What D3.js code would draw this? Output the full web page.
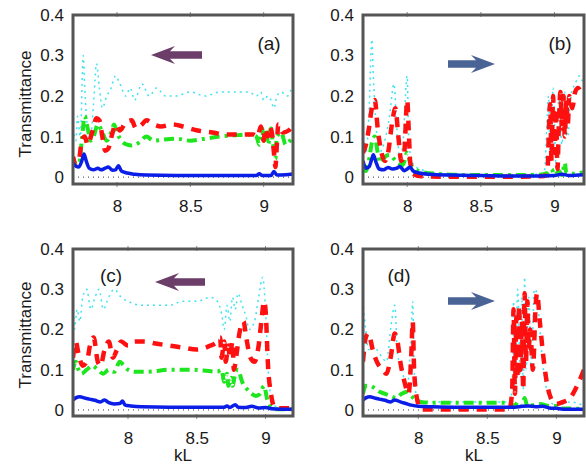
<!DOCTYPE html>
<html><head><meta charset="utf-8">
<script src="https://cdn.jsdelivr.net/npm/d3@7"></script>
<style>body{margin:0;background:#fff}svg{display:block;font-family:"Liberation Sans",Arial,sans-serif}</style>
</head><body><svg id="c" width="586" height="464"></svg>
<script>
// ---------- data ----------
const panelLabels = ["(a)", "(b)", "(c)", "(d)"];
const xDomains = [[7.7, 9.2], [7.7, 9.2], [7.6, 9.2], [7.6, 9.2]];
const xTicks = [8, 8.5, 9];
const xTickLabels = ["8", "8.5", "9"];
const yTicks = [0, 0.1, 0.2, 0.3, 0.4];
const yTickLabels = ["0", "0.1", "0.2", "0.3", "0.4"];
const arrowDirs = ["left", "right", "left", "right"];

const aBlue = [[7.70,0.035],[7.72,0.027],[7.74,0.025],[7.76,0.04],[7.775,0.057],[7.79,0.04],[7.81,0.022],[7.84,0.018],[7.87,0.022],[7.89,0.018],[7.92,0.022],[7.94,0.025],[7.97,0.017],[7.99,0.018],[8.01,0.028],[8.03,0.015],[8.07,0.01],[8.12,0.007],[8.2,0.005],[8.4,0.004],[8.6,0.004],[8.8,0.004],[8.95,0.004],[8.97,0.008],[8.99,0.004],[9.05,0.004],[9.07,0.014],[9.09,0.005],[9.15,0.006],[9.2,0.008]];
const aGreen = [[7.70,0.05],[7.72,0.03],[7.74,0.03],[7.76,0.09],[7.78,0.15],[7.80,0.12],[7.82,0.09],[7.84,0.10],[7.87,0.13],[7.90,0.11],[7.93,0.09],[7.96,0.11],[7.98,0.13],[8.00,0.11],[8.03,0.09],[8.07,0.08],[8.10,0.078],[8.15,0.085],[8.2,0.10],[8.25,0.09],[8.3,0.092],[8.4,0.095],[8.5,0.09],[8.6,0.095],[8.7,0.1],[8.8,0.103],[8.9,0.105],[8.95,0.1],[8.97,0.08],[8.99,0.12],[9.0,0.09],[9.02,0.11],[9.03,0.08],[9.05,0.12],[9.06,0.09],[9.07,0.07],[9.08,0.045],[9.09,0.1],[9.12,0.11],[9.15,0.08],[9.18,0.09],[9.2,0.1]];
const aRed = [[7.70,0.05],[7.72,0.03],[7.74,0.04],[7.76,0.09],[7.78,0.10],[7.80,0.08],[7.83,0.11],[7.86,0.145],[7.88,0.14],[7.90,0.10],[7.92,0.065],[7.94,0.07],[7.97,0.11],[7.99,0.13],[8.02,0.115],[8.06,0.135],[8.10,0.14],[8.13,0.12],[8.17,0.13],[8.2,0.14],[8.25,0.13],[8.3,0.125],[8.38,0.13],[8.45,0.125],[8.55,0.115],[8.65,0.11],[8.75,0.105],[8.85,0.105],[8.93,0.105],[8.96,0.1],[8.98,0.125],[9.0,0.09],[9.01,0.12],[9.03,0.1],[9.04,0.125],[9.06,0.1],[9.07,0.06],[9.08,0.025],[9.09,0.08],[9.1,0.13],[9.13,0.11],[9.17,0.115],[9.2,0.13]];
const aCyan = [[7.70,0.12],[7.72,0.09],[7.73,0.15],[7.75,0.10],[7.77,0.30],[7.78,0.22],[7.80,0.12],[7.82,0.10],[7.84,0.18],[7.86,0.28],[7.88,0.22],[7.90,0.17],[7.93,0.2],[7.96,0.22],[7.99,0.25],[8.02,0.23],[8.06,0.2],[8.09,0.22],[8.12,0.19],[8.17,0.23],[8.22,0.2],[8.27,0.22],[8.33,0.2],[8.4,0.2],[8.5,0.21],[8.6,0.2],[8.7,0.21],[8.8,0.21],[8.9,0.21],[8.95,0.2],[8.98,0.21],[9.0,0.19],[9.03,0.2],[9.05,0.19],[9.07,0.17],[9.09,0.2],[9.12,0.21],[9.16,0.2],[9.2,0.23]];

const bBlue = [[7.70,0.04],[7.72,0.022],[7.74,0.025],[7.76,0.045],[7.77,0.055],[7.79,0.035],[7.81,0.02],[7.84,0.018],[7.87,0.024],[7.90,0.02],[7.93,0.022],[7.95,0.026],[7.98,0.016],[8.0,0.02],[8.02,0.025],[8.04,0.015],[8.08,0.01],[8.15,0.007],[8.3,0.005],[8.5,0.004],[8.7,0.003],[8.9,0.003],[9.0,0.004],[9.05,0.007],[9.1,0.004],[9.2,0.006]];
const bGreen = [[7.70,0.02],[7.72,0.015],[7.74,0.04],[7.76,0.085],[7.78,0.1],[7.80,0.06],[7.82,0.035],[7.85,0.05],[7.88,0.055],[7.91,0.045],[7.94,0.035],[7.97,0.03],[8.0,0.06],[8.02,0.035],[8.05,0.02],[8.1,0.013],[8.2,0.008],[8.3,0.006],[8.5,0.005],[8.7,0.005],[8.9,0.006],[8.95,0.01],[8.98,0.02],[9.0,0.005],[9.03,0.015],[9.05,0.005],[9.07,0.035],[9.08,0.01],[9.12,0.008],[9.2,0.012]];
const bRed = [[7.70,0.06],[7.72,0.08],[7.74,0.12],[7.76,0.17],[7.78,0.19],[7.80,0.12],[7.82,0.07],[7.85,0.04],[7.87,0.06],[7.90,0.14],[7.92,0.17],[7.94,0.1],[7.96,0.04],[7.98,0.06],[8.0,0.19],[8.01,0.12],[8.02,0.04],[8.04,0.008],[8.1,0.002],[8.3,0.001],[8.5,0.001],[8.7,0.001],[8.9,0.002],[8.95,0.005],[8.97,0.18],[8.98,0.04],[8.99,0.2],[9.0,0.06],[9.01,0.17],[9.02,0.02],[9.03,0.14],[9.04,0.21],[9.05,0.12],[9.06,0.2],[9.07,0.1],[9.08,0.19],[9.09,0.13],[9.1,0.2],[9.12,0.17],[9.14,0.21],[9.16,0.22],[9.18,0.21],[9.2,0.2]];
const bCyan = [[7.70,0.1],[7.72,0.06],[7.74,0.15],[7.76,0.34],[7.77,0.25],[7.79,0.12],[7.81,0.06],[7.84,0.08],[7.88,0.15],[7.91,0.23],[7.93,0.12],[7.95,0.05],[7.97,0.08],[8.0,0.25],[8.01,0.1],[8.03,0.04],[8.06,0.025],[8.1,0.018],[8.15,0.012],[8.25,0.008],[8.5,0.006],[8.8,0.006],[8.93,0.01],[8.96,0.2],[8.97,0.05],[8.99,0.22],[9.01,0.03],[9.03,0.2],[9.05,0.08],[9.07,0.21],[9.09,0.1],[9.11,0.2],[9.14,0.23],[9.17,0.25],[9.2,0.22]];

const cBlue = [[7.60,0.025],[7.62,0.03],[7.65,0.033],[7.68,0.03],[7.72,0.027],[7.76,0.024],[7.80,0.02],[7.83,0.025],[7.86,0.018],[7.90,0.015],[7.94,0.016],[7.96,0.022],[7.98,0.012],[8.02,0.01],[8.1,0.008],[8.3,0.007],[8.5,0.007],[8.7,0.007],[8.72,0.01],[8.74,0.006],[8.78,0.013],[8.8,0.007],[8.85,0.006],[8.9,0.009],[8.95,0.005],[9.0,0.006],[9.05,0.003],[9.1,0.002],[9.2,0.002]];
const cGreen = [[7.60,0.1],[7.62,0.12],[7.64,0.1],[7.66,0.09],[7.7,0.1],[7.74,0.11],[7.78,0.1],[7.82,0.09],[7.86,0.1],[7.9,0.095],[7.94,0.12],[7.97,0.11],[8.0,0.1],[8.05,0.095],[8.15,0.095],[8.3,0.1],[8.45,0.1],[8.55,0.098],[8.65,0.095],[8.68,0.1],[8.7,0.07],[8.72,0.09],[8.73,0.06],[8.75,0.08],[8.76,0.06],[8.78,0.09],[8.8,0.1],[8.83,0.07],[8.87,0.05],[8.9,0.04],[8.93,0.035],[8.96,0.04],[8.99,0.06],[9.01,0.03],[9.04,0.008],[9.07,0.002],[9.2,0.002]];
const cRed = [[7.60,0.13],[7.62,0.17],[7.64,0.14],[7.67,0.11],[7.7,0.12],[7.73,0.17],[7.75,0.18],[7.78,0.12],[7.8,0.11],[7.83,0.15],[7.86,0.17],[7.89,0.13],[7.92,0.15],[7.95,0.17],[8.0,0.16],[8.05,0.17],[8.12,0.17],[8.2,0.165],[8.3,0.16],[8.4,0.155],[8.5,0.15],[8.6,0.16],[8.65,0.17],[8.67,0.18],[8.68,0.13],[8.7,0.17],[8.71,0.12],[8.73,0.16],[8.74,0.13],[8.76,0.17],[8.77,0.1],[8.79,0.14],[8.81,0.19],[8.84,0.22],[8.86,0.18],[8.89,0.13],[8.92,0.12],[8.95,0.16],[8.97,0.22],[8.99,0.27],[9.0,0.25],[9.02,0.1],[9.04,0.04],[9.06,0.01],[9.08,0.004],[9.2,0.004]];
const cCyan = [[7.60,0.32],[7.61,0.2],[7.63,0.25],[7.65,0.22],[7.67,0.28],[7.7,0.3],[7.73,0.25],[7.76,0.28],[7.79,0.3],[7.82,0.25],[7.86,0.28],[7.9,0.3],[7.95,0.28],[8.0,0.27],[8.1,0.26],[8.2,0.26],[8.3,0.26],[8.4,0.27],[8.5,0.27],[8.6,0.28],[8.65,0.27],[8.68,0.24],[8.7,0.2],[8.72,0.26],[8.74,0.22],[8.76,0.28],[8.78,0.25],[8.8,0.29],[8.83,0.26],[8.86,0.23],[8.88,0.2],[8.92,0.22],[8.95,0.28],[8.98,0.33],[9.0,0.25],[9.02,0.1],[9.04,0.03],[9.06,0.01],[9.2,0.005]];

const dBlue = [[7.60,0.025],[7.62,0.03],[7.65,0.033],[7.68,0.03],[7.72,0.027],[7.76,0.024],[7.80,0.02],[7.83,0.025],[7.87,0.02],[7.91,0.016],[7.95,0.012],[8.0,0.009],[8.1,0.008],[8.3,0.007],[8.5,0.007],[8.7,0.007],[8.75,0.009],[8.8,0.01],[8.85,0.008],[8.9,0.009],[8.95,0.005],[9.0,0.004],[9.05,0.002],[9.2,0.002]];
const dGreen = [[7.60,0.04],[7.62,0.06],[7.65,0.06],[7.68,0.055],[7.72,0.045],[7.76,0.04],[7.8,0.035],[7.84,0.03],[7.88,0.04],[7.92,0.045],[7.95,0.035],[7.98,0.025],[8.02,0.02],[8.1,0.018],[8.3,0.018],[8.5,0.018],[8.65,0.018],[8.7,0.01],[8.72,0.02],[8.75,0.01],[8.77,0.03],[8.79,0.01],[8.83,0.012],[8.88,0.015],[8.95,0.01],[9.0,0.01],[9.03,0.004],[9.2,0.003]];
const dRed = [[7.60,0.12],[7.62,0.18],[7.64,0.19],[7.67,0.15],[7.7,0.12],[7.74,0.1],[7.77,0.09],[7.8,0.13],[7.83,0.19],[7.85,0.17],[7.87,0.12],[7.9,0.07],[7.93,0.04],[7.95,0.14],[7.96,0.22],[7.97,0.1],[7.99,0.03],[8.02,0.001],[8.2,0.001],[8.5,0.001],[8.66,0.001],[8.68,0.05],[8.69,0.25],[8.7,0.04],[8.71,0.23],[8.72,0.08],[8.73,0.26],[8.74,0.1],[8.75,0.22],[8.76,0.05],[8.77,0.29],[8.78,0.12],[8.79,0.27],[8.8,0.15],[8.81,0.2],[8.83,0.1],[8.85,0.26],[8.86,0.29],[8.88,0.22],[8.9,0.15],[8.93,0.07],[8.96,0.03],[9.0,0.015],[9.05,0.02],[9.1,0.03],[9.15,0.06],[9.2,0.1]];
const dCyan = [[7.60,0.27],[7.62,0.2],[7.64,0.15],[7.67,0.16],[7.7,0.15],[7.74,0.13],[7.77,0.12],[7.8,0.2],[7.83,0.26],[7.85,0.14],[7.88,0.1],[7.92,0.06],[7.95,0.2],[7.96,0.27],[7.97,0.1],[7.99,0.03],[8.03,0.02],[8.2,0.02],[8.5,0.02],[8.66,0.02],[8.68,0.05],[8.69,0.27],[8.7,0.05],[8.72,0.3],[8.74,0.08],[8.75,0.28],[8.76,0.05],[8.77,0.33],[8.78,0.1],[8.8,0.28],[8.82,0.1],[8.84,0.3],[8.86,0.29],[8.88,0.2],[8.9,0.12],[8.93,0.05],[8.96,0.02],[9.0,0.01],[9.1,0.02],[9.2,0.01]];

const panelSeries = [
  {blue: aBlue, green: aGreen, red: aRed, cyan: aCyan},
  {blue: bBlue, green: bGreen, red: bRed, cyan: bCyan},
  {blue: cBlue, green: cGreen, red: cRed, cyan: cCyan},
  {blue: dBlue, green: dGreen, red: dRed, cyan: dCyan}
];

// ---------- layout ----------
const boxes = [
  {x0: 73, x1: 293, y0: 15, y1: 184, yMin: -0.017},
  {x0: 363, x1: 584, y0: 15, y1: 184, yMin: -0.017},
  {x0: 73, x1: 293, y0: 249, y1: 416, yMin: -0.015},
  {x0: 363, x1: 584, y0: 249, y1: 416, yMin: -0.015}
];
const labelPos = [[269, 50], [560, 50], [111, 282], [399, 282]];
const arrowPos = [[151, 202, 55], [448, 495, 64], [155, 205, 282], [448, 495, 301]];
const arrowColors = {left: "#6b3d68", right: "#4a6395"};

const styles = {
  cyan: {stroke: "#3fe4f0", width: 1.5, dash: "2,4"},
  green: {stroke: "#1ee61e", width: 4, dash: "10,5,3,5"},
  red: {stroke: "#ff1010", width: 4.5, dash: "10,8"},
  blue: {stroke: "#0a1ee8", width: 3.5, dash: null}
};
const order = ["cyan", "green", "red", "blue"];

const svg = d3.select("#c");
const defs = svg.append("defs");

boxes.forEach((b, i) => {
  const x = d3.scaleLinear().domain(xDomains[i]).range([b.x0, b.x1]);
  const y = d3.scaleLinear().domain([b.yMin, 0.4]).range([b.y1, b.y0]);
  const g = svg.append("g");

  defs.append("clipPath").attr("id", "clip" + i)
    .append("rect").attr("x", b.x0).attr("y", b.y0).attr("width", b.x1 - b.x0).attr("height", b.y1 - b.y0);

  // dotted zero line
  g.append("line").attr("x1", b.x0).attr("x2", b.x1).attr("y1", y(0)).attr("y2", y(0))
    .attr("stroke", "#333").attr("stroke-width", 1).attr("stroke-dasharray", "1,4");

  const line = d3.line().x(d => x(d[0])).y(d => y(d[1])).curve(d3.curveMonotoneX);
  const lg = g.append("g").attr("clip-path", `url(#clip${i})`);
  order.forEach(k => {
    const s = styles[k];
    lg.append("path").datum(panelSeries[i][k])
      .attr("d", line).attr("fill", "none")
      .attr("stroke", s.stroke).attr("stroke-width", s.width)
      .attr("stroke-dasharray", s.dash)
      .attr("stroke-linejoin", "round");
  });

  // axes
  const xAxis = d3.axisBottom(x).tickValues(xTicks).tickFormat((d, j) => xTickLabels[j]).tickSize(0).tickPadding(16);
  const xg = g.append("g").attr("transform", `translate(0,${b.y1})`).call(xAxis);
  xg.select(".domain").remove();
  xg.selectAll("text").attr("font-size", 17).attr("fill", "#1a1a1a").attr("font-family", "Liberation Sans, Arial, sans-serif");

  const yAxis = d3.axisLeft(y).tickValues(yTicks).tickFormat((d, j) => yTickLabels[j]).tickSize(0).tickPadding(9);
  const yg = g.append("g").attr("transform", `translate(${b.x0},0)`).call(yAxis);
  yg.select(".domain").remove();
  yg.selectAll("text").attr("font-size", 17).attr("fill", "#1a1a1a").attr("font-family", "Liberation Sans, Arial, sans-serif");

  // small tick stubs on top/bottom
  xTicks.forEach(t => {
    g.append("line").attr("x1", x(t)).attr("x2", x(t)).attr("y1", b.y0 - 3).attr("y2", b.y0 + 2).attr("stroke", "#888").attr("stroke-width", 1);
    g.append("line").attr("x1", x(t)).attr("x2", x(t)).attr("y1", b.y1 - 2).attr("y2", b.y1 + 3).attr("stroke", "#888").attr("stroke-width", 1);
  });

  // frame
  g.append("rect").attr("x", b.x0).attr("y", b.y0).attr("width", b.x1 - b.x0).attr("height", b.y1 - b.y0)
    .attr("fill", "none").attr("stroke", "#555").attr("stroke-width", 3);

  // panel label
  g.append("text").attr("x", labelPos[i][0]).attr("y", labelPos[i][1]).attr("text-anchor", "middle")
    .attr("font-size", 19).attr("fill", "#1a1a1a").text(panelLabels[i]);

  // arrow
  const [ax0, ax1, ay] = arrowPos[i];
  const col = arrowColors[arrowDirs[i]];
  const headLen = 24, headH = 9, shaftH = 3.8;
  let pts;
  if (arrowDirs[i] === "left") {
    pts = [[ax0, ay], [ax0 + headLen, ay - headH], [ax0 + headLen - 5, ay - shaftH], [ax1, ay - shaftH], [ax1, ay + shaftH], [ax0 + headLen - 5, ay + shaftH], [ax0 + headLen, ay + headH]];
  } else {
    pts = [[ax1, ay], [ax1 - headLen, ay - headH], [ax1 - headLen + 5, ay - shaftH], [ax0, ay - shaftH], [ax0, ay + shaftH], [ax1 - headLen + 5, ay + shaftH], [ax1 - headLen, ay + headH]];
  }
  g.append("polygon").attr("points", pts.map(p => p.join(",")).join(" ")).attr("fill", col);
});

// axis titles
svg.append("text").attr("transform", "translate(31,104) rotate(-90)").attr("text-anchor", "middle")
  .attr("font-size", 17).attr("fill", "#1a1a1a").text("Transmittance");
svg.append("text").attr("transform", "translate(31,335) rotate(-90)").attr("text-anchor", "middle")
  .attr("font-size", 17).attr("fill", "#1a1a1a").text("Transmittance");
svg.append("text").attr("x", 183).attr("y", 461).attr("text-anchor", "middle")
  .attr("font-size", 17).attr("fill", "#1a1a1a").text("kL");
svg.append("text").attr("x", 474).attr("y", 461).attr("text-anchor", "middle")
  .attr("font-size", 17).attr("fill", "#1a1a1a").text("kL");
</script></body></html>
